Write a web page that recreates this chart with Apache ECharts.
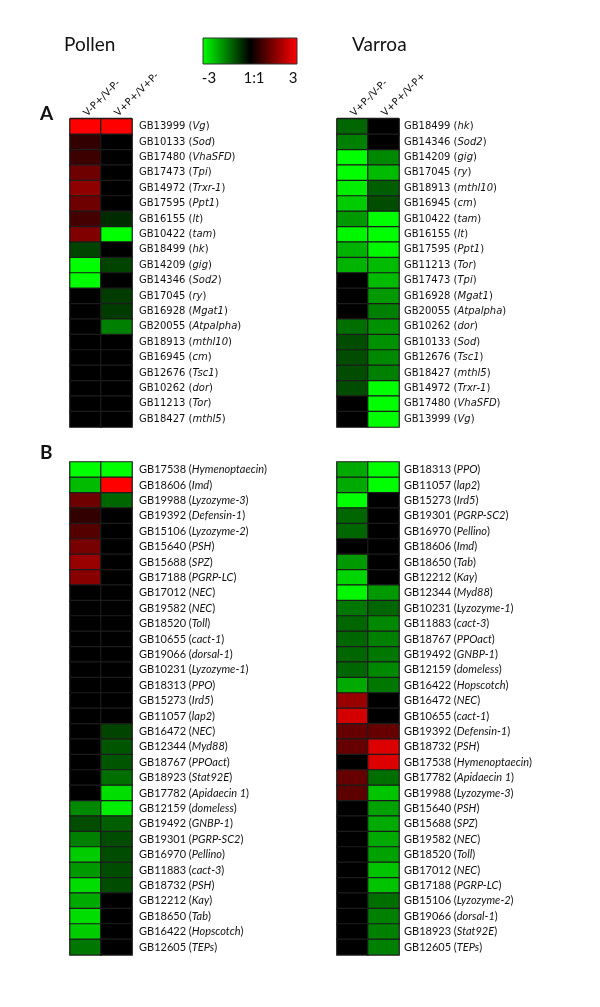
<!DOCTYPE html>
<html><head><meta charset="utf-8">
<script src="https://cdn.jsdelivr.net/npm/echarts@6/dist/echarts.min.js"></script>
<style>html,body{margin:0;padding:0;background:#fff}#c{width:600px;height:1007px}</style>
</head><body><div id="c"></div>
<script>
// ---- Data ----
const colLabelsPollen = ['V-P+/V-P-', 'V+P+/V+P-'];
const colLabelsVarroa = ['V+P-/V-P-', 'V+P+/V-P+'];

const pollenA_genes = ['GB13999 (Vg)','GB10133 (Sod)','GB17480 (VhaSFD)','GB17473 (Tpi)','GB14972 (Trxr-1)','GB17595 (Ppt1)','GB16155 (lt)','GB10422 (tam)','GB18499 (hk)','GB14209 (gig)','GB14346 (Sod2)','GB17045 (ry)','GB16928 (Mgat1)','GB20055 (Atpalpha)','GB18913 (mthl10)','GB16945 (cm)','GB12676 (Tsc1)','GB10262 (dor)','GB11213 (Tor)','GB18427 (mthl5)'];
const pollenA_c1 = [3, 0.6, 0.7, 1.3, 1.7, 1.3, 0.8, 1.5, -0.8, -3, -3, 0, 0, 0, 0, 0, 0, 0, 0, 0];
const pollenA_c2 = [3, 0, 0, 0, 0, 0, -0.5, -3, 0, -0.8, 0, -0.7, -0.7, -1.5, 0, 0, 0, 0, 0, 0];

const varroaA_genes = ['GB18499 (hk)','GB14346 (Sod2)','GB14209 (gig)','GB17045 (ry)','GB18913 (mthl10)','GB16945 (cm)','GB10422 (tam)','GB16155 (lt)','GB17595 (Ppt1)','GB11213 (Tor)','GB17473 (Tpi)','GB16928 (Mgat1)','GB20055 (Atpalpha)','GB10262 (dor)','GB10133 (Sod)','GB12676 (Tsc1)','GB18427 (mthl5)','GB14972 (Trxr-1)','GB17480 (VhaSFD)','GB13999 (Vg)'];
const varroaA_c1 = [-1.2, -1.5, -3, -3, -2.8, -2.4, -1.8, -2.9, -2.1, -2.1, 0, 0, 0, -1.3, -0.9, -0.9, -0.9, -0.9, 0, 0];
const varroaA_c2 = [0, 0, -1.6, -2.2, -1.1, -0.9, -3, -3, -2.9, -2.2, -2.2, -1.8, -1.5, -1.7, -1.7, -1.6, -1.5, -3, -3, -3];

const pollenB_genes = ['GB17538 (Hymenoptaecin)','GB18606 (Imd)','GB19988 (Lyzozyme-3)','GB19392 (Defensin-1)','GB15106 (Lyzozyme-2)','GB15640 (PSH)','GB15688 (SPZ)','GB17188 (PGRP-LC)','GB17012 (NEC)','GB19582 (NEC)','GB18520 (Toll)','GB10655 (cact-1)','GB19066 (dorsal-1)','GB10231 (Lyzozyme-1)','GB18313 (PPO)','GB15273 (Ird5)','GB11057 (lap2)','GB16472 (NEC)','GB12344 (Myd88)','GB18767 (PPOact)','GB18923 (Stat92E)','GB17782 (Apidaecin 1)','GB12159 (domeless)','GB19492 (GNBP-1)','GB19301 (PGRP-SC2)','GB16970 (Pellino)','GB11883 (cact-3)','GB18732 (PSH)','GB12212 (Kay)','GB18650 (Tab)','GB16422 (Hopscotch)','GB12605 (TEPs)'];
const pollenB_c1 = [-3, -2.2, 1.3, 0.6, 1.0, 1.4, 1.8, 1.6, 0, 0, 0, 0, 0, 0, 0, 0, 0, 0, 0, 0, 0, 0, -1.6, -0.9, -1.5, -2.4, -1.8, -2.6, -2.0, -2.6, -2.4, -1.4];
const pollenB_c2 = [-3, 3, -1.2, 0, 0, 0, 0, 0, 0, 0, 0, 0, 0, 0, 0, 0, 0, -0.8, -1.0, -1.0, -1.3, -2.6, -2.8, -1.1, -0.9, -0.9, -0.9, -0.9, 0, 0, 0, 0];

const varroaB_genes = ['GB18313 (PPO)','GB11057 (lap2)','GB15273 (Ird5)','GB19301 (PGRP-SC2)','GB16970 (Pellino)','GB18606 (Imd)','GB18650 (Tab)','GB12212 (Kay)','GB12344 (Myd88)','GB10231 (Lyzozyme-1)','GB11883 (cact-3)','GB18767 (PPOact)','GB19492 (GNBP-1)','GB12159 (domeless)','GB16422 (Hopscotch)','GB16472 (NEC)','GB10655 (cact-1)','GB19392 (Defensin-1)','GB18732 (PSH)','GB17538 (Hymenoptaecin)','GB17782 (Apidaecin 1)','GB19988 (Lyzozyme-3)','GB15640 (PSH)','GB15688 (SPZ)','GB19582 (NEC)','GB18520 (Toll)','GB17012 (NEC)','GB17188 (PGRP-LC)','GB15106 (Lyzozyme-2)','GB19066 (dorsal-1)','GB18923 (Stat92E)','GB12605 (TEPs)'];
const varroaB_c1 = [-2, -2, -3, -1.2, -1.2, 0, -1.8, -2.5, -2.9, -1.4, -1.2, -1.2, -1.2, -1.2, -2, 1.8, 2.5, 1.2, 1.2, 0, 1.2, 1.1, 0, 0, 0, 0, 0, 0, 0, 0, 0, 0];
const varroaB_c2 = [-3, -3, 0, 0, 0, 0, 0, 0, -1.8, -1.2, -1.6, -1.5, -1.4, -1.6, -1.4, 0, 0, 1.2, 2.6, 2.6, -1.3, -2.3, -1.9, -2, -2, -1.9, -2.3, -2.3, -1.3, -1.5, -1.5, -1.5];

const legendTicks = ['-3', '1:1', '3'];

// ---- Build ----
const chart = echarts.init(document.getElementById('c'), null, {renderer: 'canvas'});
const ROW = 15.4;
const panels = [
  {genes: pollenA_genes, c1: pollenA_c1, c2: pollenA_c2, cols: colLabelsPollen, left: 70, top: 119, header: true, font: 'DejaVu Sans', fs: 10, margin: 7},
  {genes: varroaA_genes, c1: varroaA_c1, c2: varroaA_c2, cols: colLabelsVarroa, left: 337, top: 119, header: true, font: 'DejaVu Sans', fs: 10, margin: 5},
  {genes: pollenB_genes, c1: pollenB_c1, c2: pollenB_c2, cols: colLabelsPollen, left: 70, top: 462, header: false, font: 'Lato', fs: 11, margin: 7},
  {genes: varroaB_genes, c1: varroaB_c1, c2: varroaB_c2, cols: colLabelsVarroa, left: 337, top: 462, header: false, font: 'Lato', fs: 11, margin: 5}
];

function fmt(v) {
  const m = v.match(/^(\S+) \((.*)\)$/);
  if (!m) return v;
  return m[1] + ' (' + '{i|' + m[2] + '})';
}

const grid = [], xAxis = [], yAxis = [], series = [];
panels.forEach((p, k) => {
  grid.push({left: p.left, top: p.top, width: 62, height: ROW * p.genes.length});
  xAxis.push({type: 'category', gridIndex: k, data: p.cols, position: 'top',
    axisLine: {show: false}, axisTick: {show: false}, splitLine: {show: false},
    axisLabel: {show: p.header, rotate: -45, interval: 0, margin: 4, color: '#111', fontFamily: 'DejaVu Sans', fontSize: 10}});
  yAxis.push({type: 'category', gridIndex: k, data: p.genes, inverse: true, position: 'right',
    axisLine: {show: false}, axisTick: {show: false}, splitLine: {show: false},
    axisLabel: {interval: 0, margin: p.margin, color: '#111', fontFamily: p.font, fontSize: p.fs,
      formatter: fmt, rich: {i: {fontStyle: 'italic', fontFamily: p.font, fontSize: p.fs, color: '#111'}}}});
  const data = [];
  p.genes.forEach((g, r) => { data.push([0, r, p.c1[r]]); data.push([1, r, p.c2[r]]); });
  series.push({type: 'heatmap', xAxisIndex: k, yAxisIndex: k, data: data,
    itemStyle: {borderColor: '#1c1c1c', borderWidth: 1.2}, emphasis: {disabled: true}});
});

chart.setOption({
  animation: false,
  backgroundColor: '#fff',
  grid, xAxis, yAxis, series,
  visualMap: {show: false, min: -3, max: 3, seriesIndex: [0,1,2,3], calculable: false,
    inRange: {color: ['#00ff00', '#000000', '#ff0000']}},
  graphic: [
    {type: 'text', left: 64, top: 35, style: {text: 'Pollen', font: '19px Lato', fill: '#111'}},
    {type: 'text', left: 352, top: 35, style: {text: 'Varroa', font: '19px Lato', fill: '#111'}},
    {type: 'text', left: 40, top: 104, style: {text: 'A', font: 'bold 19px Lato', fill: '#111'}},
    {type: 'text', left: 40, top: 443, style: {text: 'B', font: 'bold 19px Lato', fill: '#111'}},
    {type: 'rect', shape: {x: 203, y: 38, width: 94, height: 26},
      style: {fill: new echarts.graphic.LinearGradient(0, 0, 1, 0, [
        {offset: 0, color: '#00ff00'}, {offset: 0.5, color: '#000000'}, {offset: 1, color: '#ff0000'}]),
        stroke: '#333', lineWidth: 1}},
    {type: 'text', x: 209, y: 78, style: {text: legendTicks[0], font: '15px Lato', fill: '#111', align: 'center', verticalAlign: 'middle'}},
    {type: 'text', x: 254, y: 78, style: {text: legendTicks[1], font: '15px Lato', fill: '#111', align: 'center', verticalAlign: 'middle'}},
    {type: 'text', x: 293, y: 78, style: {text: legendTicks[2], font: '15px Lato', fill: '#111', align: 'center', verticalAlign: 'middle'}},
    {type: 'line', shape: {x1: 70, y1: 118.5, x2: 132, y2: 118.5}, style: {stroke: '#111', lineWidth: 1.5}},
    {type: 'line', shape: {x1: 337, y1: 118.5, x2: 399, y2: 118.5}, style: {stroke: '#111', lineWidth: 1.5}}
  ]
});
</script></body></html>
